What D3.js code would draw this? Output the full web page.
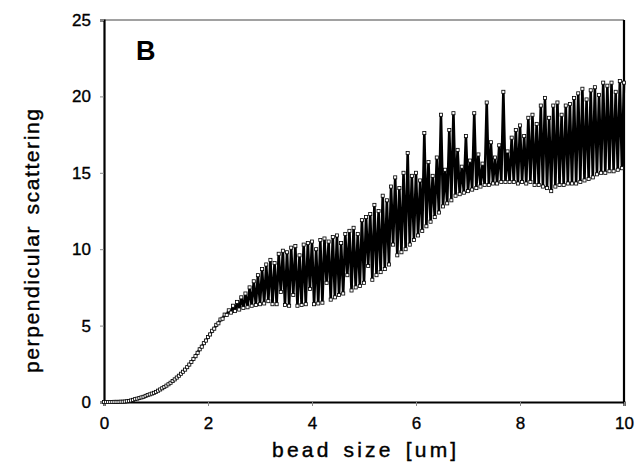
<!DOCTYPE html>
<html>
<head>
<meta charset="utf-8">
<script src="https://cdn.jsdelivr.net/npm/d3@7"></script>
<style>
  body { margin: 0; background: #fff; }
  text { font-family: "Liberation Sans", Arial, sans-serif; fill: #000; }
</style>
</head>
<body>
<svg id="chart" width="643" height="462"></svg>
<script>
// bead size sampled every 0.04 um, from 0 to 10
var sizeStep = 0.04;
var scattering = [
  0, 0, 0, 0, 0, 0.01, 0.01, 0.01, 0.02, 0.02,
  0.03, 0.05, 0.07, 0.1, 0.14, 0.19, 0.22, 0.26, 0.3, 0.34,
  0.4, 0.45, 0.5, 0.55, 0.6, 0.66, 0.74, 0.82, 0.9, 0.98,
  1.07, 1.16, 1.26, 1.37, 1.48, 1.6, 1.72, 1.85, 1.98, 2.12,
  2.28, 2.45, 2.62, 2.82, 3.0, 3.22, 3.45, 3.62, 3.85, 4.02,
  4.25, 4.42, 4.66, 4.8, 5.05, 5.15, 5.4, 5.45, 5.72, 5.7,
  6.0, 5.85, 6.3, 5.95, 6.55, 6.05, 6.85, 6.15, 7.1, 6.2,
  7.5, 6.3, 7.9, 6.35, 8.3, 6.4, 8.7, 6.45, 9.0, 6.6,
  9.3, 6.4, 9.1, 6.4, 9.7, 7.2, 9.9, 6.35, 9.8, 6.3,
  10.1, 7.0, 10.2, 6.3, 9.6, 6.35, 10.3, 6.4, 10.4, 7.4,
  10.5, 6.4, 10.0, 6.45, 10.6, 6.5, 10.7, 7.8, 10.5, 6.7,
  10.8, 6.85, 10.9, 7.0, 10.4, 7.1, 11.0, 8.3, 11.2, 7.3,
  11.4, 7.5, 11.0, 7.6, 11.9, 7.8, 12.1, 8.9, 12.3, 8.0,
  12.9, 8.3, 12.5, 8.5, 13.5, 8.7, 13.2, 9.0, 14.1, 10.3,
  14.7, 9.6, 14.0, 9.8, 15.0, 10.0, 16.3, 10.3, 14.8, 10.6,
  15.0, 10.9, 14.5, 11.2, 17.6, 11.5, 15.7, 11.8, 14.8, 12.1,
  16.0, 12.4, 18.8, 12.8, 15.2, 13.0, 17.8, 13.2, 18.9, 13.5,
  16.5, 13.6, 15.4, 13.7, 17.4, 13.8, 15.8, 13.9, 18.9, 14.0,
  16.2, 14.1, 15.6, 14.2, 19.6, 14.2, 17.0, 14.3, 16.0, 14.3,
  16.8, 14.4, 20.3, 14.4, 16.4, 14.4, 17.3, 14.4, 17.8, 14.3,
  18.1, 14.4, 17.4, 14.3, 18.6, 14.4, 18.8, 14.2, 18.2, 14.2,
  19.4, 14.1, 19.9, 14.0, 18.6, 13.8, 19.4, 14.1, 19.6, 14.2,
  18.8, 14.2, 19.4, 14.3, 19.5, 14.3, 19.9, 14.3, 20.2, 14.4,
  20.5, 14.5, 19.8, 14.6, 20.4, 14.7, 20.6, 14.9, 20.1, 15.0,
  20.9, 15.0, 20.7, 15.1, 20.9, 15.1, 20.3, 15.2, 21.0, 15.3,
  20.9
];
var xTicks = [0, 2, 4, 6, 8, 10];
var yTicks = [0, 5, 10, 15, 20, 25];

var svg = d3.select("#chart");

var x = d3.scaleLinear().domain([0, 10]).range([104, 624]);
var y = d3.scaleLinear().domain([0, 25]).range([402, 20]);

var pts = scattering.map(function (v, i) { return [i * sizeStep, v]; });

// frame
svg.append("line")
  .attr("x1", x(0)).attr("x2", x(10)).attr("y1", y(25)).attr("y2", y(25))
  .attr("stroke", "#444").attr("stroke-width", 1.2);
svg.append("line")
  .attr("x1", x(10)).attr("x2", x(10)).attr("y1", y(25)).attr("y2", y(0))
  .attr("stroke", "#000").attr("stroke-width", 2.2);

// axes
var xAxis = svg.append("g")
  .attr("transform", "translate(0," + y(0) + ")")
  .call(d3.axisBottom(x).tickValues(xTicks).tickSize(4).tickPadding(11).tickFormat(d3.format("d")));
var yAxis = svg.append("g")
  .attr("transform", "translate(" + x(0) + ",0)")
  .call(d3.axisLeft(y).tickValues(yTicks).tickSize(4).tickPadding(9).tickFormat(d3.format("d")));

[xAxis, yAxis].forEach(function (g) {
  g.select(".domain").attr("stroke", "#000").attr("stroke-width", 2.2);
  g.selectAll(".tick line").attr("stroke", "#888").attr("stroke-width", 1);
  g.selectAll(".tick text")
    .style("font-family", "'Liberation Sans', Arial, sans-serif")
    .style("font-size", "17px")
    .attr("fill", "#000")
    .attr("stroke", "#000")
    .attr("stroke-width", 0.35);
});

// data: line through the points, then open squares
var line = d3.line()
  .x(function (d) { return x(d[0]); })
  .y(function (d) { return y(d[1]); });

svg.append("path")
  .datum(pts)
  .attr("d", line)
  .attr("fill", "none")
  .attr("stroke", "#000")
  .attr("stroke-width", 2.6)
  .attr("stroke-linejoin", "round");

var sq = 3.1;
svg.append("g")
  .selectAll("rect")
  .data(pts)
  .enter().append("rect")
  .attr("x", function (d) { return x(d[0]) - sq / 2; })
  .attr("y", function (d) { return y(d[1]) - sq / 2; })
  .attr("width", sq)
  .attr("height", sq)
  .attr("fill", "#fff")
  .attr("stroke", "#000")
  .attr("stroke-width", 0.8);

// titles
svg.append("text")
  .attr("x", 272)
  .attr("y", 457)
  .style("font-size", "21px")
  .style("letter-spacing", "3.2px")
  .style("word-spacing", "3px")
  .attr("stroke", "#000")
  .attr("stroke-width", 0.4)
  .text("bead size [um]");

svg.append("text")
  .attr("transform", "translate(39,373) rotate(-90)")
  .style("font-size", "21px")
  .style("letter-spacing", "1.6px")
  .style("word-spacing", "3px")
  .attr("stroke", "#000")
  .attr("stroke-width", 0.4)
  .text("perpendicular scattering");

svg.append("text")
  .attr("x", 136)
  .attr("y", 60)
  .style("font-size", "27px")
  .style("font-weight", "bold")
  .text("B");
</script>
</body>
</html>
